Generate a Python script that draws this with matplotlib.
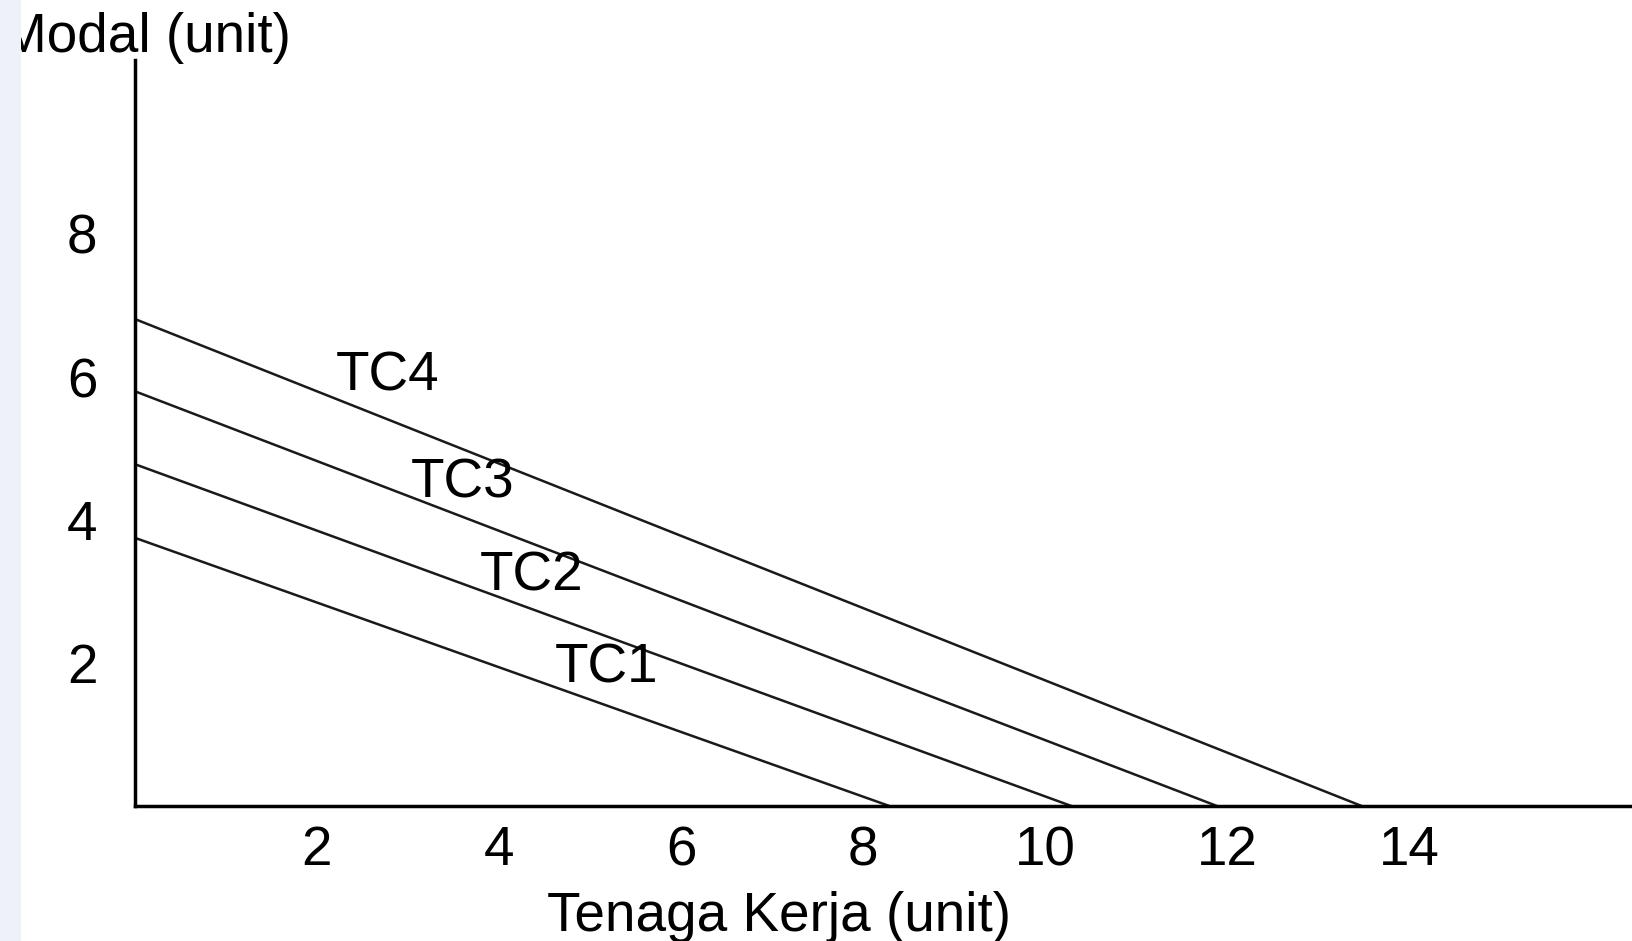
import matplotlib
matplotlib.use("Agg")
import matplotlib.pyplot as plt
from matplotlib.patches import Rectangle

# cost lines: y-intercept (Modal) and x-intercept (Tenaga Kerja)
names = ["TC1", "TC2", "TC3", "TC4"]
modal_axis = [3.75, 4.78, 5.80, 6.81]
tenaga_axis = [8.29, 10.29, 11.89, 13.48]
label_x = [5.18, 4.36, 3.60, 2.78]
label_y = [1.93, 3.21, 4.51, 6.01]

x_ticks = [2, 4, 6, 8, 10, 12, 14]
y_ticks = [2, 4, 6, 8]

FONT = "Liberation Sans"
FS = 39.5

fig = plt.figure(figsize=(16.32, 9.41), dpi=100)
W, H = 1632, 941
ax = fig.add_axes([135 / W, 1 - 806 / H, 1 - 135 / W, (806 - 60) / H])
ax.set_xlim(0, (W - 135) / 91)
ax.set_ylim(0, (806 - 60) / 71.5)

for k in range(len(names)):
    ax.plot([0, tenaga_axis[k]], [modal_axis[k], 0], color="#1a1a1a", lw=1.8,
            solid_capstyle="butt")
    ax.text(label_x[k], label_y[k], names[k], fontsize=FS, family=FONT,
            ha="center", va="center", color="black")

for side in ["top", "right"]:
    ax.spines[side].set_visible(False)
for side in ["left", "bottom"]:
    ax.spines[side].set_linewidth(2.5)
    ax.spines[side].set_color("black")

ax.set_xticks(x_ticks)
ax.set_yticks(y_ticks)
ax.set_xticklabels([str(v) for v in x_ticks], fontsize=FS, family=FONT)
ax.set_yticklabels([str(v) for v in y_ticks], fontsize=FS, family=FONT)
ax.tick_params(axis="x", length=0, pad=14)
ax.tick_params(axis="y", length=0, pad=27)

fig.text(291 / W, 1 - 52 / H, "Modal (unit)", fontsize=FS, family=FONT,
         ha="right", va="baseline", zorder=1)
fig.text(779 / W, 1 - 931 / H, "Tenaga Kerja (unit)", fontsize=FS, family=FONT,
         ha="center", va="baseline", zorder=1)

# light strip on the left edge of the screenshot
fig.patches.append(Rectangle((0, 0), 21 / W, 1, transform=fig.transFigure,
                             facecolor="#eef1f8", edgecolor="none", zorder=5))

fig.savefig("out.png", dpi=100)
